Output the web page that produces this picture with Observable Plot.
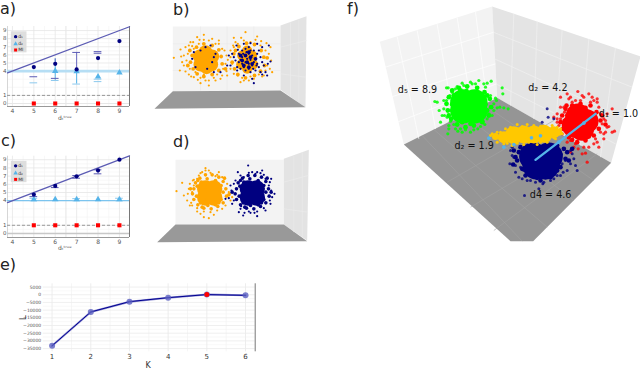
<!DOCTYPE html>
<html><head><meta charset="utf-8">
<script src="https://cdn.jsdelivr.net/npm/d3@7"></script>
<script src="https://cdn.jsdelivr.net/npm/@observablehq/plot@0.6"></script>
<style>
html,body{margin:0;padding:0;background:#fff}
#page{position:relative;width:640px;height:370px;overflow:hidden;font-family:"DejaVu Sans",sans-serif}
.p{position:absolute}
.p svg{display:block;overflow:visible;background:transparent}
.lab{position:absolute;font-size:16px;line-height:16px;color:#222}
</style></head><body><div id="page"></div>
<script>
// ---- panels a and c
const trueD = [5,6,7,8,9];
const tickX = [4,5,6,7,8,9];
const tickY = [0,1,4,5,6,7,8,9];
const diag = [3.77,9.47];
const aD1 = [4.5,4.9,4.2,5.6,7.7];
const aD2 = [null,4.0,3.95,3.3,3.8];
const aMI = [0,0,0,0,0];
const aCapsDark = [[5,3.3],[6,3.1],[8,6.4],[8,6.2],[7,6.3]];
const aCapsLight = [[5,2.55],[7,2.4],[8,3.0],[8,2.7],[6,2.84]];
const aBarsLight = [[6,5.5,2.84],[7,4.3,2.4]];
const aBarsDark = [[6,5.5,4.9],[7,6.3,4.3]];
const cD1 = [4.75,5.8,6.98,7.7,9];
const cD2 = [4.15,4.15,4.15,4.15,4.15];
const cMI = [1,1,1,1,1];
const cCapsDark = [[5,4.5],[6,5.6],[7,7.07],[7,6.74],[8,7.77],[8,7.28]];
const cCapsLight = [[5,4.3],[5,4.0],[7,4.25],[7,4.0],[9,4.3],[9,4.0]];
const cBarsDark = [[5,4.75,4.5],[8,7.77,7.28]];
const legendNames = ["d₁","d₂","MI"];
const legendY = [8.25,7.35,6.6];

// ---- panel e
const kVals = [1,2,3,4,5,6];
const lVals = [-33200,-11200,-4500,-1900,100,-400];
const lTicks = [5000,0,-5000,-10000,-15000,-20000,-25000,-30000,-35000];

// ---- panel b (picture units)
const bBack = [[67,78],[390,78],[390,270],[67,272]];
const bSide = [[390,75],[468,47],[465,320],[390,268]];
const bFloor = [[67,272],[390,270],[465,320],[12,325]];
const bOrangeCore = [[165,178],[148,168],[185,168],[150,192],[182,192],[165,155],[168,200]];
const bOrangeCore2 = [[290,178],[275,165],[305,165],[272,192],[308,192],[290,205],[290,150]];
const bOrangeMid = [[125,165],[120,185],[128,205],[140,220],[160,228],[185,222],[205,210],[215,190],[212,168],[205,148],[185,135],[160,130],[138,140],[118,150],[225,205],[112,195],[250,160],[245,185],[252,205],[262,222],[285,232],[312,225],[330,212],[342,195],[340,170],[332,150],[312,132],[288,128],[265,138],[255,150],[350,172]];
const bOrangePts = [[70,172],[90,147],[95,185],[88,210],[105,213],[125,137],[140,110],[160,103],[147,118],[160,118],[130,230],[150,248],[175,255],[195,240],[215,225],[230,225],[240,150],[228,165],[250,112],[285,95],[315,118],[332,122],[360,140],[362,180],[365,215],[335,228],[310,235],[270,245],[275,232],[248,135],[240,205],[112,160],[108,180],[118,205],[130,145],[145,130],[175,120],[195,130],[215,145],[225,190],[218,205],[200,222],[175,240],[150,232],[135,215],[250,140],[262,130],[280,120],[300,125],[330,135],[345,150],[350,195],[345,210],[325,222],[295,240],[262,225],[245,190],[240,170],[120,125],[185,115],[205,120],[100,195],[115,222],[160,222],[210,235],[105,140],[115,135],[128,125],[205,130],[222,150],[232,178],[228,212],[190,232],[165,240],[142,238],[122,228],[100,165],[92,168],[255,125],[272,112],[320,108],[348,128],[355,160],[358,205],[340,225],[300,228],[280,240],[250,220]];
const bNavyDense = [[285,165],[300,170],[275,180],[290,185],[305,190],[280,195],[295,200],[270,165],[315,175],[295,155]];
const bNavyPts = [[150,150],[130,155],[125,175],[135,200],[170,205],[190,170],[185,185],[195,160],[180,135],[165,140],[210,215],[190,215],[245,160],[235,165],[230,195],[240,195],[258,135],[280,130],[300,128],[320,130],[335,140],[355,135],[360,183],[352,190],[340,195],[345,215],[335,222],[350,225],[310,248],[305,235],[280,225],[260,200],[255,180],[265,160],[275,150],[285,145],[295,140],[310,150],[320,160],[330,170],[335,185],[325,200],[315,210],[300,215],[285,210],[270,205],[265,185],[275,170],[285,165],[295,160],[305,165],[315,175],[320,190],[305,195],[295,190],[285,185],[275,190],[290,175],[300,178],[310,185],[280,200],[295,205],[270,178],[325,150],[262,148],[250,170],[260,210],[330,215],[288,155],[300,150],[278,160],[318,195],[308,205]];

// ---- panel d (picture units)
const dBack = [[75,103],[400,103],[400,297],[75,297]];
const dSide = [[400,100],[475,73],[470,345],[400,297]];
const dFloor = [[75,297],[400,297],[470,347],[20,350]];
const dOrangeCore = [[177,203],[165,190],[190,190],[165,215],[190,215]];
const dNavyCore = [[305,203],[293,190],[318,190],[293,215],[318,215]];
const dOrangeMid = [[130,190],[135,172],[148,158],[165,148],[185,148],[205,155],[218,168],[226,190],[228,212],[218,232],[202,243],[182,250],[160,248],[142,238],[130,222],[126,205],[120,190],[235,208],[140,182],[152,170],[170,160],[195,165],[212,180],[218,200],[212,222],[195,238],[172,240],[150,232],[138,212],[142,165],[205,232],[155,245],[222,158]];
const dNavyMid = [[258,190],[263,172],[276,158],[293,150],[313,150],[333,155],[346,168],[354,190],[356,212],[346,232],[330,243],[310,250],[288,248],[270,238],[258,222],[254,205],[245,200],[362,200],[268,182],[280,170],[298,160],[323,165],[340,180],[346,200],[340,222],[323,238],[300,240],[278,232],[266,212],[270,165],[333,232],[283,245],[350,158]];
const dOrangePts = [[78,197],[95,172],[100,210],[130,163],[150,143],[165,128],[155,140],[118,240],[140,258],[160,275],[175,278],[190,268],[215,250],[240,225],[235,200],[222,160],[200,148],[125,200],[110,225],[245,215],[130,180],[140,160],[180,142],[195,152],[215,155],[230,175],[238,205],[225,240],[200,255],[180,260],[160,258],[140,248],[122,232],[115,190],[165,135],[125,240],[150,265],[112,205],[118,175],[127,165],[145,150],[175,135],[205,140]];
const dNavyPts = [[293,120],[262,140],[280,155],[315,145],[340,148],[362,160],[372,205],[360,235],[345,255],[320,272],[278,270],[270,250],[245,235],[235,218],[240,180],[255,165],[225,220],[300,262],[355,180],[335,135],[270,150],[295,142],[320,140],[345,160],[362,195],[358,225],[340,248],[320,258],[295,258],[272,242],[250,225],[243,195],[250,175],[330,143],[305,140],[282,262],[365,215],[312,262],[358,170],[265,260]];

// ---- panel f (picture units)
const fLeft = [[118,124],[455,18],[470,292],[190,432]];
const fRight = [[455,18],[900,168],[812,487],[470,292]];
const fFloor = [[190,432],[470,292],[812,487],[578,722],[510,722]];
const fGridLeft = [[170,108,235,415],[230,90,285,385],[290,71,340,360],[350,52,395,330],[405,35,440,305],[135,200,460,95],[150,290,465,190],[170,365,468,250]];
const fGridRight = [[520,40,510,315],[590,63,580,355],[665,88,645,392],[745,115,720,435],[825,142,780,470],[458,95,875,260],[462,175,845,350],[466,250,825,430]];
const fGridFloor = [[280,387,620,680],[370,342,700,600],[430,312,760,540],[245,405,545,722],[320,545,640,360],[390,620,710,430],[460,690,770,460]];
const fGreenCore = [[385,318],[368,305],[402,305],[368,330],[402,330]];
const fGreenMid = [[325,290],[335,270],[355,262],[380,258],[410,262],[432,275],[448,295],[452,320],[445,345],[425,365],[400,375],[375,380],[350,372],[332,355],[322,330],[318,310],[340,285],[425,290],[440,330],[340,350],[390,370],[360,270],[345,300],[430,345],[350,282],[378,272],[405,275],[422,305],[435,312],[420,352],[395,362],[365,365],[345,335],[335,312],[440,285],[325,345]];
const fGreenPts = [[323,262],[290,305],[283,303],[296,330],[300,365],[322,400],[365,395],[330,362],[318,262],[350,258],[390,245],[415,240],[452,242],[485,262],[487,280],[465,293],[478,320],[503,325],[490,322],[460,330],[445,340],[433,372],[412,385],[390,395],[360,385],[345,385],[325,385],[335,275],[310,325],[312,345],[345,265],[370,255],[405,250],[435,260],[450,285],[460,310],[440,355],[420,378],[375,388],[340,372],[320,350],[318,300],[328,285],[395,250],[430,250],[470,322],[330,330],[305,345],[310,300],[325,375],[352,392],[400,388],[428,362],[455,345],[468,300],[440,248],[365,248]];
const fRedCore = [[718,355],[738,362],[700,375],[725,385],[712,345]];
const fRedMid = [[665,345],[675,325],[695,315],[720,310],[750,315],[768,335],[780,360],[775,385],[760,405],[735,420],[710,425],[685,410],[668,385],[660,365],[680,345],[755,385],[700,405],[745,335],[690,330],[725,410],[785,345],[672,362],[682,392],[705,325],[735,322],[760,350],[765,372],[745,408],[695,418],[678,315],[795,372]];
const fRedPts = [[660,290],[680,280],[685,295],[745,280],[770,295],[760,300],[725,285],[712,273],[640,350],[650,355],[655,375],[650,340],[705,300],[815,325],[795,360],[800,380],[822,392],[815,395],[805,378],[790,400],[775,440],[740,485],[725,460],[735,458],[713,445],[690,455],[672,445],[690,420],[760,430],[790,415],[780,340],[800,340],[670,320],[660,320],[665,400],[695,305],[720,300],[750,305],[775,320],[785,370],[780,395],[765,415],[745,440],[705,430],[680,405],[660,355],[672,335],[730,290],[690,290],[755,290],[790,355],[795,395],[770,425],[730,440],[700,440],[680,425],[770,305],[650,365]];
const fNavyCore = [[600,478],[578,468],[625,468],[588,495],[615,495]];
const fNavyMid = [[535,455],[530,480],[545,505],[565,520],[590,532],[615,530],[640,520],[660,500],[675,475],[670,445],[650,435],[555,440],[680,455],[520,450],[525,470],[555,525],[600,540],[630,530],[650,510],[685,480],[545,470],[558,495],[575,510],[605,520],[632,510],[650,490],[660,462],[540,440],[695,445],[518,492]];
const fNavyPts = [[510,450],[508,490],[525,515],[535,530],[570,540],[595,565],[607,550],[552,585],[620,530],[650,525],[680,510],[710,510],[700,475],[620,325],[623,350],[605,365],[640,355],[635,385],[690,450],[665,490],[520,470],[540,500],[560,520],[580,530],[600,535],[630,540],[645,510],[675,480],[530,480],[515,465],[550,510],[585,545],[690,490],[668,515],[525,495],[545,535],[560,540],[610,545],[640,535],[695,460],[705,495],[660,525],[515,440]];
const fYellowCore = [[520,404],[550,402],[580,402],[610,400]];
const fYellowTip = [[490,410],[640,395]];
const fYellowMid = [[465,408],[655,395]];
const fYellowPts = [[450,405],[462,412],[470,425],[490,430],[515,435],[550,432],[590,432],[620,425],[645,415],[665,400],[660,385],[635,375],[600,378],[560,372],[530,372],[495,385],[470,395],[455,400],[480,395],[510,380],[545,378],[580,375],[615,378],[650,380],[640,412],[600,425],[565,425],[530,428],[500,428],[485,420]];
const fBlueSeg = [[585,478],[765,340]];
const fBlueBlobs = [[445,413],[490,440],[520,432],[573,412],[600,406],[730,368],[655,425]];
const fLabels = [["d₅ = 8.9",172,268],["d₂ = 4.2",563,262],["d₁ = 1.0",775,340],["d₂ = 1.9",342,437],["d4 = 4.6",568,582]];

const page = document.getElementById("page");
function place(svg,l,t){const d=document.createElement("div");d.className="p";d.style.left=l+"px";d.style.top=t+"px";d.appendChild(svg);page.appendChild(d);}
function title(s,l,t){const d=document.createElement("div");d.className="lab";d.textContent=s;d.style.left=l+"px";d.style.top=t+"px";page.appendChild(d);}
const poly=(pts,fill)=>Plot.line(pts,{x:d=>d[0],y:d=>d[1],fill,stroke:"none"});
const dots=(pts,fill,r,o=1)=>Plot.dot(pts,{x:d=>d[0],y:d=>d[1],r,fill,fillOpacity:o,stroke:"none"});
const gridLinks=(segs,c,w=0.6)=>Plot.link(segs,{x1:d=>d[0],y1:d=>d[1],x2:d=>d[2],y2:d=>d[3],stroke:c,strokeWidth:w});

function scatterPlot(W,H,marks){
  return Plot.plot({width:W/3,height:H/3,margin:0,x:{axis:null,domain:[0,W],range:[0,W/3]},y:{axis:null,domain:[H,0],range:[H/3,0]},marks});
}

// ---- a) / c)
function dPanel(o){
  return Plot.plot({
    width:135,height:o.h,marginLeft:7,marginRight:6,marginTop:o.top,marginBottom:o.h-o.bottom,
    style:{fontFamily:"DejaVu Sans",background:"transparent"},
    x:{domain:[3.77,9.47],axis:null},
    y:{domain:o.yDom,axis:null},
    marks:[
      Plot.ruleY([0.5,2,3,4.5,5.5,6.5,7.5,8.5],{stroke:"#f3f3f3",strokeWidth:.6}),
      Plot.ruleX([4.5,5.5,7.5,8.5],{stroke:"#f3f3f3",strokeWidth:.6}),
      Plot.ruleX([6.5],{stroke:"#e2e2e2",strokeWidth:.9}),
      Plot.ruleY(tickY,{stroke:"#e6e6e6",strokeWidth:.8}),
      Plot.ruleX(tickX,{stroke:"#e6e6e6",strokeWidth:.8}),
      Plot.ruleY([0],{stroke:o.zeroC,strokeWidth:o.zeroW}),
      Plot.axisX({ticks:tickX,tickSize:0,tickPadding:o.xPad,fontSize:6,fill:"#555",tickFormat:d3.format("d"),label:null}),
      Plot.axisY({ticks:tickY,tickSize:0,tickPadding:1,fontSize:5.5,fill:"#555",tickFormat:d3.format("d"),label:null}),
      Plot.ruleX([9.47],{stroke:"#777",strokeWidth:1}),
      Plot.ruleX([3.77],{stroke:"#ccc",strokeWidth:.8}),
      Plot.ruleY([o.yDom[0]],{stroke:"#999",strokeWidth:1}),
      Plot.ruleY([1],{stroke:"#999",strokeWidth:1,strokeDasharray:"3,2"}),
      Plot.ruleY([4],{stroke:o.lineC,strokeWidth:o.lineW}),
      Plot.line(diag,{x:d=>d,y:d=>d,stroke:"#5c5cb4",strokeWidth:1.3}),
      Plot.ruleX(o.barsLight,{x:d=>d[0],y1:d=>d[1],y2:d=>d[2],stroke:"#56b4e9",strokeWidth:1}),
      Plot.ruleX(o.barsDark,{x:d=>d[0],y1:d=>d[1],y2:d=>d[2],stroke:"#6a6ac0",strokeWidth:1}),
      Plot.ruleY(o.capsLight,{x1:d=>d[0]-.18,x2:d=>d[0]+.18,y:d=>d[1],stroke:"#8cc9ee",strokeWidth:1}),
      Plot.ruleY(o.capsDark,{x1:d=>d[0]-.18,x2:d=>d[0]+.18,y:d=>d[1],stroke:"#5a5ab4",strokeWidth:1}),
      Plot.dot(trueD,{x:d=>d,y:(d,i)=>o.d2[i],symbol:"triangle",r:2.4,fill:"#56b4e9",filter:(d,i)=>o.d2[i]!=null}),
      Plot.dot(trueD,{x:d=>d,y:(d,i)=>o.d1[i],r:2.1,fill:"#000080"}),
      Plot.dot(trueD,{x:d=>d,y:(d,i)=>o.mi[i],symbol:"square",r:2.3,fill:"#ff0000"}),
      Plot.rect([0],{x1:3.95,x2:4.68,y1:o.lgTop,y2:o.lgBot,fill:"#dedede"}),
      Plot.dot(legendNames,{x:4.15,y:(d,i)=>o.lgY[i],r:1.7,fill:(d,i)=>["#000080","#56b4e9","#ff0000"][i],symbol:(d,i)=>["circle","triangle","square"][i]}),
      Plot.text(legendNames,{x:4.27,y:(d,i)=>o.lgY[i],text:d=>d,textAnchor:"start",fontSize:4.5,fill:"#333"}),
      Plot.text(["dₜᵗʳᵘᵉ"],{x:6.45,y:o.yDom[0],dy:o.lblDy,text:d=>d,fontSize:6,fill:"#555"})
    ]
  });
}
place(dPanel({h:103,top:4,bottom:84,yDom:[-0.37,9.5],xPad:2,zeroC:"#e6e6e6",zeroW:.8,lineC:"#b6def4",lineW:2.6,
  d1:aD1,d2:aD2,mi:aMI,capsDark:aCapsDark,capsLight:aCapsLight,barsLight:aBarsLight,barsDark:aBarsDark,lgTop:8.85,lgBot:6.25,lgY:legendY,lblDy:12}),0,22);
place(dPanel({h:105,top:5.7,bottom:87,yDom:[-0.49,9.43],xPad:2,zeroC:"#c8c8c8",zeroW:1.6,lineC:"#7cc4ee",lineW:1.2,
  d1:cD1,d2:cD2,mi:cMI,capsDark:cCapsDark,capsLight:cCapsLight,barsLight:[],barsDark:cBarsDark,lgTop:8.8,lgBot:6.2,lgY:legendY,lblDy:11}),0,150);

// ---- e)
place(Plot.plot({
  width:262,height:90,marginLeft:42.7,marginRight:7.3,marginTop:3.3,marginBottom:18.7,
  style:{fontFamily:"DejaVu Sans",background:"transparent"},
  x:{domain:[0.77,6.25],axis:null},
  y:{domain:[-37100,7115],axis:null},
  marks:[
    Plot.ruleY([2500,-2500,-7500,-12500,-17500,-22500,-27500,-32500],{stroke:"#f4f4f4",strokeWidth:.6}),
    Plot.ruleX([1.5,2.5,3.5,4.5,5.5],{stroke:"#f4f4f4",strokeWidth:.8}),
    Plot.ruleY(lTicks,{stroke:"#ebebeb",strokeWidth:.8}),
    Plot.ruleX(kVals,{stroke:"#ebebeb",strokeWidth:.9}),
    Plot.axisX({ticks:kVals,tickSize:0,tickPadding:2,fontSize:7,fill:"#333",tickFormat:d3.format("d"),label:null}),
    Plot.axisY({ticks:lTicks,tickSize:0,tickPadding:2,fontSize:4.5,fill:"#555",tickFormat:d=>String(d).replace("-","−"),label:null}),
    Plot.ruleX([6.25],{stroke:"#777",strokeWidth:1}),
    Plot.line(kVals,{x:d=>d,y:(d,i)=>lVals[i],stroke:"#8a8ad0",strokeWidth:2}),
    Plot.line(kVals,{x:d=>d,y:(d,i)=>lVals[i],stroke:"#000090",strokeWidth:1}),
    Plot.dot(kVals,{x:d=>d,y:(d,i)=>lVals[i],r:3,fill:"#5a5fc0",fillOpacity:.8}),
    Plot.dot([5],{x:d=>d,y:lVals[4],r:2.5,fill:"#ff0000"}),
    Plot.text(["K"],{x:3.48,y:-37100,dy:13.5,text:d=>d,fontSize:8,fill:"#333"}),
    Plot.text(["L"],{x:0.77,y:-15000,dx:-20,text:d=>d,fontSize:9,rotate:-90,fill:"#333"})
  ]}),0,280);

// ---- b)
place(scatterPlot(510,360,[
  poly(bBack,"#f3f3f3"),poly(bSide,"#e3e3e3"),poly(bFloor,"#999999"),
  gridLinks([[150,78,150,270],[230,78,230,270],[310,78,310,270],[67,130,390,130],[67,210,390,210]],"#e9e9e9"),
  gridLinks([[420,65,420,290],[445,55,445,305],[390,140,468,120],[390,220,466,230]],"#ededed"),
  dots(bOrangeCore,"#ffa500",7),dots(bOrangeCore2,"#ffa500",5),dots(bOrangeMid,"#ffa500",1.9),dots(bOrangePts,"#ffa500",1.1),
  dots(bNavyDense,"#000080",1.9),dots(bNavyPts,"#000080",1.1)]),150,0);

// ---- d)
place(scatterPlot(510,375,[
  poly(dBack,"#f3f3f3"),poly(dSide,"#e3e3e3"),poly(dFloor,"#999999"),
  gridLinks([[430,90,430,320],[455,80,455,335],[400,170,473,150],[400,250,472,260]],"#ededed"),
  dots(dOrangeCore,"#ffa500",8.5),dots(dOrangeMid,"#ffa500",1.8),dots(dOrangePts,"#ffa500",1.1),
  dots(dNavyCore,"#000080",8.5),dots(dNavyMid,"#000080",1.8),dots(dNavyPts,"#000080",1.1)]),150,125);

// ---- f)
place(scatterPlot(900,750,[
  poly(fLeft,"#f3f3f3"),poly(fRight,"#e4e4e4"),poly(fFloor,"#959595"),
  gridLinks(fGridLeft,"#ffffff",.7),gridLinks(fGridRight,"#f0f0f0",.7),gridLinks(fGridFloor,"#a2a2a2",.6),
  dots(fRedCore,"#ff0000",12),dots(fRedMid,"#ff0000",2.3),dots(fRedPts,"#ff0000",1.6,.8),
  dots(fNavyCore,"#000080",14),dots(fNavyMid,"#000080",2.3),dots(fNavyPts,"#000080",1.5,.8),
  dots(fGreenCore,"#00ff00",13),dots(fGreenMid,"#00ff00",2.4),dots(fGreenPts,"#00ff00",1.6,.85),
  Plot.line(fBlueSeg,{x:d=>d[0],y:d=>d[1],stroke:"#56b4e9",strokeWidth:2.4}),
  dots(fYellowCore,"#ffc800",9),dots(fYellowTip,"#ffc800",6),dots(fYellowMid,"#ffc800",3.5),dots(fYellowPts,"#ffc800",1.5),
  dots(fBlueBlobs,"#56b4e9",1.8),
  Plot.text(fLabels,{x:d=>d[1],y:d=>d[2],text:d=>d[0],textAnchor:"start",fontSize:9.6,fill:"#111",fontFamily:"DejaVu Sans"})
]),340,0);

title("a)",0,1);title("b)",173,2);title("c)",1,133);title("d)",173,134);title("e)",0,257);title("f)",347,1);
</script></body></html>
